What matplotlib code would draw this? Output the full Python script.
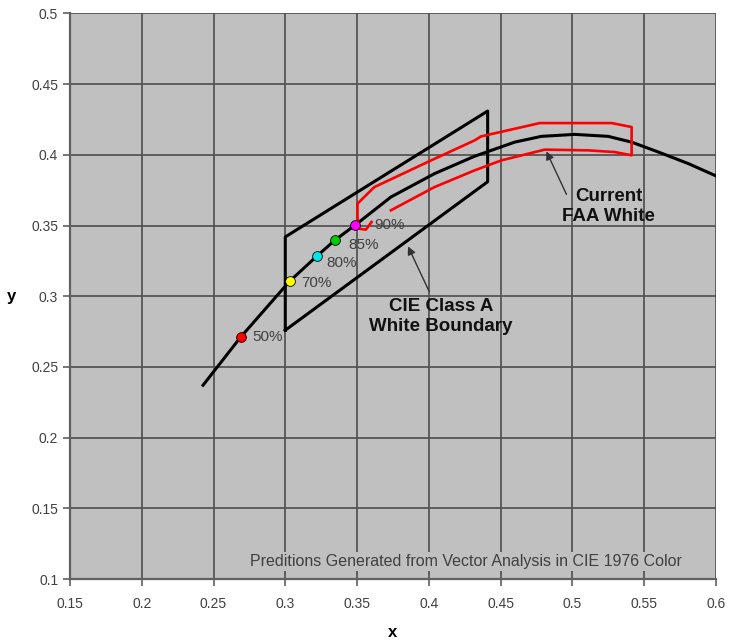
import matplotlib
matplotlib.use('Agg')
import matplotlib.pyplot as plt
from matplotlib.ticker import MultipleLocator, FuncFormatter

plt.rcParams['font.family'] = ['Liberation Sans', 'DejaVu Sans']

# black locus curve
locus_x = [0.2427, 0.2688, 0.303, 0.3219, 0.3345, 0.3485, 0.3736, 0.4039, 0.4318,
           0.4598, 0.4784, 0.5017, 0.525, 0.5413, 0.56, 0.5809, 0.6019]
locus_y = [0.2371, 0.271, 0.3106, 0.3283, 0.3396, 0.3502, 0.3702, 0.3867, 0.3990,
           0.4090, 0.4131, 0.4145, 0.4131, 0.4090, 0.4020, 0.3938, 0.3843]

# CIE class A white boundary
cie_x = [0.300, 0.300, 0.441, 0.441, 0.300]
cie_y = [0.276, 0.342, 0.431, 0.381, 0.276]

# current FAA white (red outline, open at lower left)
faa_x = [0.3736, 0.4039, 0.4318, 0.4505, 0.4807, 0.5110, 0.5296, 0.5413, 0.5413,
         0.5274, 0.4773, 0.4365, 0.4318, 0.4016, 0.3620, 0.3503, 0.3503, 0.3515,
         0.3561, 0.3601]
faa_y = [0.3608, 0.3772, 0.3890, 0.3961, 0.4037, 0.4032, 0.4020, 0.3997, 0.4197,
         0.4225, 0.4225, 0.4131, 0.4102, 0.3961, 0.3772, 0.3655, 0.3549, 0.3478,
         0.3471, 0.3525]

# predicted points
pct_labels = ['50%', '70%', '80%', '85%', '90%']
pct_x = [0.2688, 0.303, 0.3219, 0.3345, 0.3485]
pct_y = [0.271, 0.3106, 0.3283, 0.3396, 0.3502]
pct_colors = ['#ff0000', '#ffff00', '#00e5ee', '#00cc00', '#ff00ff']
pct_dx = [0.0084, 0.0084, 0.0070, 0.0098, 0.0133]
pct_dy = [0.0, -0.0014, -0.0050, -0.0035, 0.0]

fig = plt.figure(figsize=(7.29, 6.42), dpi=100)
ax = fig.add_axes([0.096, 0.098, 0.886, 0.881])
ax.set_facecolor('#c0c0c0')

ax.set_xlim(0.15, 0.6)
ax.set_ylim(0.1, 0.5)
ax.xaxis.set_major_locator(MultipleLocator(0.05))
ax.yaxis.set_major_locator(MultipleLocator(0.05))
fmt = FuncFormatter(lambda v, p: '%g' % round(v, 2))
ax.xaxis.set_major_formatter(fmt)
ax.yaxis.set_major_formatter(fmt)
ax.grid(True, color='#555555', linewidth=1.3)
ax.set_axisbelow(True)

for s in ['top', 'right']:
    ax.spines[s].set_visible(False)
for s in ['left', 'bottom']:
    ax.spines[s].set_color('#606060')
    ax.spines[s].set_linewidth(1.6)
ax.tick_params(colors='#606060', labelcolor='#404040', labelsize=10, length=5, width=1.2)
ax.tick_params(axis='x', pad=8)

ax.plot(locus_x, locus_y, color='black', linewidth=2.2, zorder=3)
ax.plot(cie_x, cie_y, color='black', linewidth=2.2, zorder=3)
ax.plot(faa_x, faa_y, color='#ff0000', linewidth=1.9, zorder=4)

for lab, x, y, c, dx, dy in zip(pct_labels, pct_x, pct_y, pct_colors, pct_dx, pct_dy):
    ax.plot(x, y, 'o', color=c, markersize=7, markeredgecolor='black',
            markeredgewidth=0.6, zorder=5)
    ax.text(x + dx, y + dy, lab, fontsize=11, color='#404040', va='center', ha='left')

arrow = dict(arrowstyle='-|>', color='#333333', linewidth=1, shrinkA=0, shrinkB=0,
             mutation_scale=12)
ax.annotate('', xy=(0.3855, 0.3353), xytext=(0.4002, 0.3035), arrowprops=arrow)
ax.annotate('', xy=(0.4819, 0.4025), xytext=(0.4959, 0.3721), arrowprops=arrow)
ax.text(0.4086, 0.2859, 'CIE Class A\nWhite Boundary', ha='center', va='center',
        fontsize=13.5, fontweight='bold', color='#111111')
ax.text(0.5253, 0.3636, 'Current\nFAA White', ha='center', va='center',
        fontsize=13.5, fontweight='bold', color='#111111')

ax.text(0.4257, 0.1127, 'Preditions Generated from Vector Analysis in CIE 1976 Color',
        ha='center', va='center', fontsize=11.5, color='#404040',
        bbox=dict(facecolor='#c0c0c0', edgecolor='none', pad=1.5))

ax.set_xlabel('x', fontsize=12, fontweight='bold', labelpad=10)
ax.set_ylabel('y', fontsize=12, fontweight='bold', rotation=0, labelpad=14, va='center')

fig.savefig('out.png', dpi=100)
